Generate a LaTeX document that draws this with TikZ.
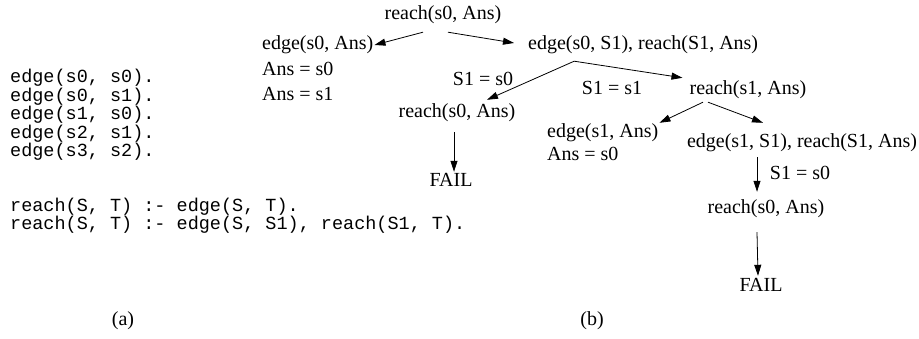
\documentclass[tikz,border=0pt]{standalone}
\usepackage{fontspec}
\setmainfont{Liberation Serif}
\setmonofont{Liberation Mono}
\usepackage{tikz}
\usetikzlibrary{arrows.meta, positioning}

\begin{document}
\begin{tikzpicture}[
        x=1pt, y=-1pt,
        goal/.style={inner sep=1pt, text height=14pt, text depth=4pt,
                     font=\fontsize{20}{24}\selectfont},
        goalw/.style={goal, anchor=west},
        code/.style={inner sep=0pt, anchor=base west,
                     font=\ttfamily\fontsize{18.5}{18.5}\selectfont},
        arrow/.style={-{Triangle[length=11pt,width=7pt]}, line width=0.8pt}
      ]
        \useasboundingbox (0,0) rectangle (919,339);

        % (a) the program
        \node[code] (c1) at (10,83) {edge(s0, s0).};
        \node[code] (c2) at (10,101.5) {edge(s0, s1).};
        \node[code] (c3) at (10,120) {edge(s1, s0).};
        \node[code] (c4) at (10,138.5) {edge(s2, s1).};
        \node[code] (c5) at (10,157) {edge(s3, s2).};
        \node[code] (c6) at (10,212) {reach(S, T) :- edge(S, T).};
        \node[code] (c7) at (10,230) {reach(S, T) :- edge(S, S1), reach(S1, T).};
        \node[goal] (capa) at (123,320) {(a)};

        % (b) the search tree
        \node[goal] (root) at (443,15) {reach(s0, Ans)};
        \node[goalw] (e1) at (261,45) {edge(s0, Ans)};
        \node[goalw] (ans1) at (261,71) {Ans = s0};
        \node[goalw] (ans2) at (261,96) {Ans = s1};
        \node[goalw] (e2) at (527,45) {edge(s0, S1), reach(S1, Ans)};
        \node[goal] (lab1) at (483,81) {S1 = s0};
        \node[goal] (lab2) at (612,90) {S1 = s1};
        \node[goal] (r2) at (457,113) {reach(s0, Ans)};
        \node[goal] (fail1) at (451,182) {FAIL};
        \node[goal] (r3) at (748,90) {reach(s1, Ans)};
        \node[goalw] (e3) at (546,133) {edge(s1, Ans)};
        \node[goalw] (ans3) at (546,156) {Ans = s0};
        \node[goal] (e4) at (802,143) {edge(s1, S1), reach(S1, Ans)};
        \node[goal] (lab3) at (800,175) {S1 = s0};
        \node[goal] (r4) at (766,209) {reach(s0, Ans)};
        \node[goal] (fail2) at (761,286) {FAIL};
        \node[goal] (capb) at (592,320) {(b)};

        \draw[arrow] ([xshift=-20pt,yshift=-7pt]root.south) -- (e1.east);
        \draw[arrow] ([xshift=5pt,yshift=-7pt]root.south) -- ([xshift=-13pt,yshift=2pt]e2.west);
        \draw[arrow] ([xshift=-69pt,yshift=-6pt]e2.south) -- ([xshift=30pt,yshift=3pt]r2.north);
        \draw[arrow] ([xshift=-69pt,yshift=-6pt]e2.south) -- ([xshift=-6pt,yshift=2pt]r3.north west);
        \draw[arrow] ([xshift=-3pt,yshift=-9pt]r2.south) -- ([xshift=3pt]fail1.north);
        \draw[arrow] ([xshift=-45pt,yshift=-2pt]r3.south) -- (e3.north east);
        \draw[arrow] ([xshift=-40pt,yshift=-2pt]r3.south) -- ([xshift=-39pt,yshift=10pt]e4.north);
        \draw[arrow] ([xshift=-45pt,yshift=-4pt]e4.south) -- ([xshift=-9pt,yshift=7pt]r4.north);
        \draw[arrow] ([xshift=-9pt,yshift=-13pt]r4.south) -- ([xshift=-3pt]fail2.north);
\end{tikzpicture}
\end{document}
